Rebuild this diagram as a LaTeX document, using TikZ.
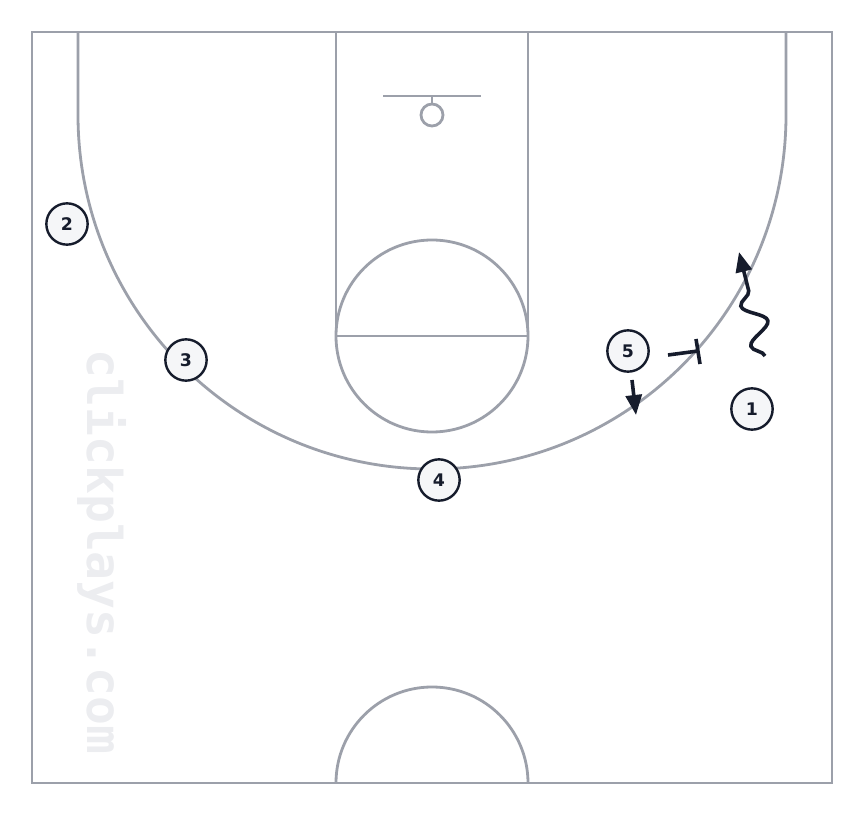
\documentclass[tikz,border=0pt]{standalone}
\usepackage{fontspec}
\setsansfont{DejaVu Sans}
\newfontfamily\wmfont{DejaVu Sans Mono}
\usetikzlibrary{arrows.meta,decorations.pathmorphing}
\definecolor{court}{HTML}{9CA0AA}
\definecolor{ink}{HTML}{161C2C}
\definecolor{pfill}{HTML}{F5F6F8}
\definecolor{wm}{HTML}{ECEDF0}
\begin{document}
\begin{tikzpicture}[x=0.75pt,y=-0.75pt,
  courtline/.style={draw=court,line width=2.1pt},
  player/.style={circle,draw=ink,fill=pfill,line width=1.8pt,minimum size=31pt,inner sep=0pt,font=\sffamily\bfseries\fontsize{13}{15}\selectfont,text=ink},
  move/.style={draw=ink,line width=2.7pt,-{Triangle[length=15pt,width=12pt]}},
  screenline/.style={draw=ink,line width=2.7pt}]
\useasboundingbox (0,0) rectangle (864,816);
% watermark
\node[rotate=-90,text=wm,font=\wmfont\bfseries\fontsize{36}{40}\selectfont] (wmark) at (102,552) {clickplays.com};
% court
\draw[courtline] (32,32) rectangle (832,783);
\draw[courtline] (336,32) -- (336,336) -- (528,336) -- (528,32);
\draw[courtline] (432,336) circle[radius=96];
\draw[courtline] (383,96) -- (481,96);
\draw[courtline] (432,96) -- (432,104);
\draw[courtline] (432,115) circle[radius=11];
\draw[courtline] (78,32) -- (78,115) arc[start angle=180,end angle=0,radius=354] -- (786,32);
\draw[courtline] (336,783) arc[start angle=180,end angle=360,radius=96];
% players
\node[player] (p1) at (752,409) {1};
\node[player] (p2) at (67,224) {2};
\node[player] (p3) at (186,360) {3};
\node[player] (p4) at (439,480) {4};
\node[player] (p5) at (628,351) {5};
% 5 screen
\coordinate (s0) at (668,355);
\coordinate (s1) at (698,351);
\coordinate (t0) at (696,339);
\coordinate (t1) at (700,364);
\draw[screenline] (s0) -- (s1);
\draw[screenline] (t0) -- (t1);
% 5 cut down
\coordinate (c0) at (632,380);
\coordinate (c1) at (636,415);
\draw[move] (c0) -- (c1);
% 1 dribble
\coordinate (d0) at (765,356);
\coordinate (d1) at (739,252);
\draw[move,decorate,decoration={snake,amplitude=8.5pt,segment length=31pt,post length=16pt}] (d0) -- (d1);
\end{tikzpicture}
\end{document}
